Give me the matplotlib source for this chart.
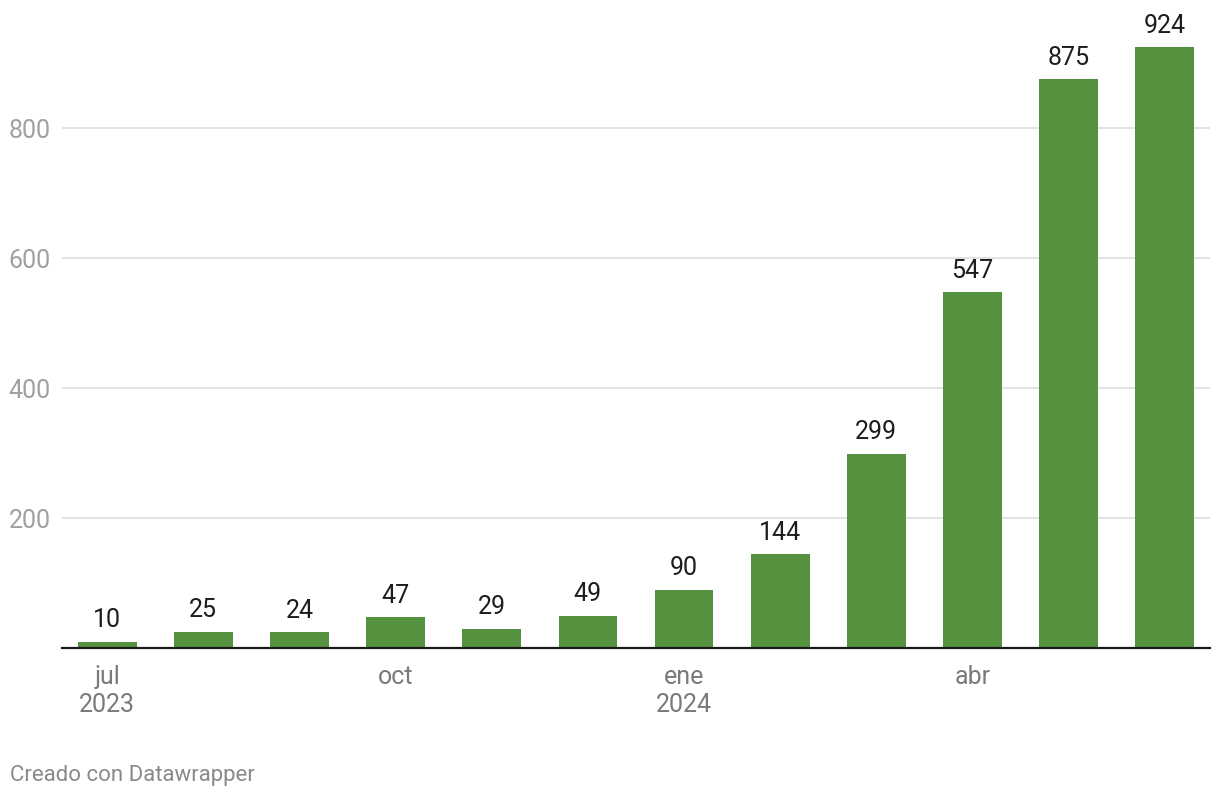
import matplotlib
matplotlib.use("Agg")
import matplotlib.pyplot as plt
import numpy as np

plt.rcParams["font.family"] = ["Roboto", "DejaVu Sans"]

months = ["jul", "ago", "sep", "oct", "nov", "dic", "ene", "feb", "mar", "abr", "may", "jun"]
values = [10, 25, 24, 47, 29, 49, 90, 144, 299, 547, 875, 924]
tick_pos = [0, 3, 6, 9]
tick_labels = ["jul\n2023", "oct", "ene\n2024", "abr"]
y_ticks = [200, 400, 600, 800]

BAR = "#54923f"

fig = plt.figure(figsize=(12.2, 8), dpi=100)
ax = fig.add_axes([62 / 1220, 1 - 648 / 800, (1210 - 62) / 1220, 648 / 800])

x = np.arange(len(values))
ax.bar(x, values, width=0.61, color=BAR, zorder=3)

# value labels above each bar
for xi, v in zip(x, values):
    ax.annotate(str(v), (xi, v), xytext=(0, 7), textcoords="offset points",
                ha="center", va="bottom", fontsize=18, color="#1d1d1d")

ax.set_xlim(-0.47, len(values) - 1 + 0.47)
ax.set_ylim(0, 997)

ax.set_yticks(y_ticks)
ax.set_yticklabels([str(t) for t in y_ticks])
ax.tick_params(axis="y", length=0, pad=8, labelsize=18, labelcolor="#a0a0a0")
ax.grid(axis="y", color="#e2e2e2", linewidth=1.4, zorder=0)

ax.set_xticks(tick_pos)
ax.set_xticklabels(tick_labels, linespacing=1.22)
ax.tick_params(axis="x", length=0, pad=12, labelsize=18, labelcolor="#7a7a7a")

for side in ["top", "right", "left"]:
    ax.spines[side].set_visible(False)
ax.spines["bottom"].set_color("#1a1a1a")
ax.spines["bottom"].set_linewidth(1.6)
ax.spines["bottom"].set_zorder(4)

fig.text(10 / 1220, 1 - 776 / 800, "Creado con Datawrapper", fontsize=16,
         color="#8a8a8a", ha="left", va="center")

fig.savefig("out.png", dpi=100)
